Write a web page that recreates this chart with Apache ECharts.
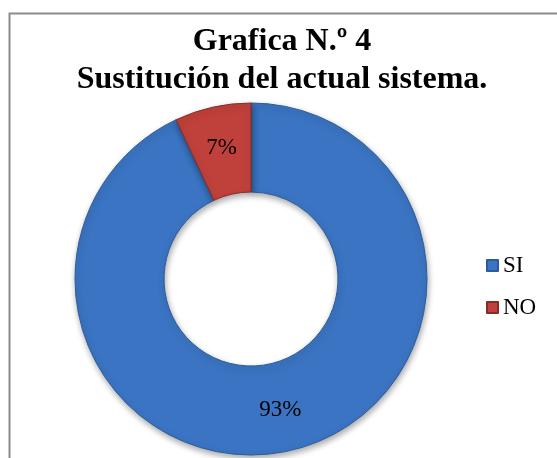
<!DOCTYPE html>
<html>
<head>
<meta charset="utf-8">
<script src="https://cdn.jsdelivr.net/npm/echarts@6/dist/echarts.min.js"></script>
<style>
  html, body { margin: 0; padding: 0; background: #fff; }
  #chart { width: 557px; height: 458px; }
</style>
</head>
<body>
<div id="chart"></div>
<script>
// chart data
const categories = ['SI', 'NO']
const values = [93, 7]
const sliceColors = ['#3a74c2', '#c0413b']
const sliceBorders = ['#2b5b9c', '#862d29']

const chart = echarts.init(document.getElementById('chart'))

const option = {
  animation: false,
  title: {
    text: 'Grafica N.º 4\nSustitución del actual sistema.',
    left: 277,
    top: 18,
    textAlign: 'center',
    textStyle: {
      fontFamily: 'Liberation Serif',
      fontWeight: 'bold',
      fontSize: 32,
      lineHeight: 38,
      color: '#000',
    },
  },
  legend: {
    orient: 'vertical',
    left: 481,
    top: 249,
    icon: 'rect',
    itemWidth: 11,
    itemHeight: 11,
    itemGap: 19,
    data: categories,
    textStyle: {
      fontFamily: 'Liberation Serif',
      fontSize: 23,
      lineHeight: 23,
      color: '#000',
    },
  },
  graphic: [
    {
      // chart frame (left and top edges only visible)
      type: 'rect',
      silent: true,
      shape: { x: 9.5, y: 13.5, width: 700, height: 700 },
      style: { fill: 'none', stroke: '#8c8c8c', lineWidth: 2 },
    },
  ],
  series: [
    {
      type: 'pie',
      center: [251, 279],
      radius: [87, 176],
      startAngle: 90,
      clockwise: true,
      label: {
        show: true,
        position: 'inside',
        formatter: '{c}%',
        fontFamily: 'Liberation Serif',
        fontSize: 23,
        color: '#000',
      },
      labelLine: { show: false },
      emphasis: { disabled: true },
      data: categories.map((name, i) => ({
        name: name,
        value: values[i],
        itemStyle: {
          color: sliceColors[i],
          borderColor: sliceBorders[i],
          borderWidth: 1,
          shadowBlur: 6,
          shadowOffsetX: 1,
          shadowOffsetY: 3,
          shadowColor: 'rgba(0,0,0,0.35)',
        },
      })),
    },
  ],
}

chart.setOption(option)
</script>
</body>
</html>
